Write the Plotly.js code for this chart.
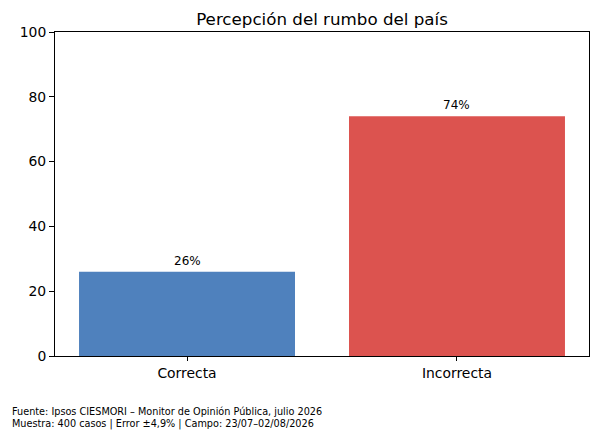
<!DOCTYPE html>
<html>
<head>
<meta charset="utf-8">
<script src="https://cdn.plot.ly/plotly-3.0.1.min.js"></script>
<style>html,body{margin:0;padding:0;background:#fff;}#chart{width:599px;height:439px;}</style>
</head>
<body>
<div id="chart"></div>
<script>
const categories = ["Correcta", "Incorrecta"];
const values = [26, 74];
const barLabels = ["26%", "74%"];
const barColors = ["#4f81bd", "#dc534f"];
const yTicks = [0, 20, 40, 60, 80, 100];
const titleText = "Percepción del rumbo del país";
const footLine1 = "Fuente: Ipsos CIESMORI – Monitor de Opinión Pública, julio 2026";
const footLine2 = "Muestra: 400 casos | Error ±4,9% | Campo: 23/07–02/08/2026";

const W = 599, H = 439;
const mL = 55, mR = 10, mT = 32, mB = 83;
const plotW = W - mL - mR, plotH = H - mT - mB;
const font = "DejaVu Sans, sans-serif";

const trace = {
  type: "bar",
  x: categories,
  y: values,
  marker: { color: barColors, line: { width: 0 } },
  hoverinfo: "none"
};

const annotations = categories.map((c, i) => ({
  x: c, y: values[i], xref: "x", yref: "y",
  text: barLabels[i], showarrow: false,
  yanchor: "bottom", yshift: 2,
  font: { family: font, size: 12, color: "#000" }
}));

function footAnno(text, py) {
  return {
    xref: "paper", yref: "paper",
    x: (10 - mL) / plotW, y: (mT + plotH - py) / plotH,
    xanchor: "left", yanchor: "middle",
    text: text, showarrow: false,
    font: { family: font, size: 9.7, color: "#000" }
  };
}
annotations.push(footAnno(footLine1, 411));
annotations.push(footAnno(footLine2, 424));

const layout = {
  width: W, height: H,
  margin: { l: mL, r: mR, t: mT, b: mB, pad: 0 },
  paper_bgcolor: "#fff", plot_bgcolor: "#fff",
  font: { family: font, color: "#000", size: 13.9 },
  title: {
    text: titleText,
    font: { family: font, size: 16.7, color: "#000" },
    x: (mL + plotW / 2) / W, xanchor: "center",
    y: 1 - 19 / H, yanchor: "middle"
  },
  bargap: 0.2,
  showlegend: false,
  xaxis: {
    type: "category",
    range: [-0.489, 1.489],
    showline: true, mirror: true, linecolor: "#000", linewidth: 1,
    ticks: "outside", ticklen: 4, tickcolor: "#000", tickwidth: 1,
    showgrid: false, zeroline: false,
    tickfont: { family: font, size: 13.9, color: "#000" },
    fixedrange: true
  },
  yaxis: {
    range: [0, 100],
    tickvals: yTicks,
    ticktext: yTicks.map(String),
    showline: true, mirror: true, linecolor: "#000", linewidth: 1,
    ticks: "outside", ticklen: 5, tickcolor: "#000", tickwidth: 1,
    showgrid: false, zeroline: false,
    tickfont: { family: font, size: 13.9, color: "#000" },
    fixedrange: true
  },
  annotations: annotations
};

Plotly.newPlot("chart", [trace], layout, { displayModeBar: false, staticPlot: true });
</script>
</body>
</html>
